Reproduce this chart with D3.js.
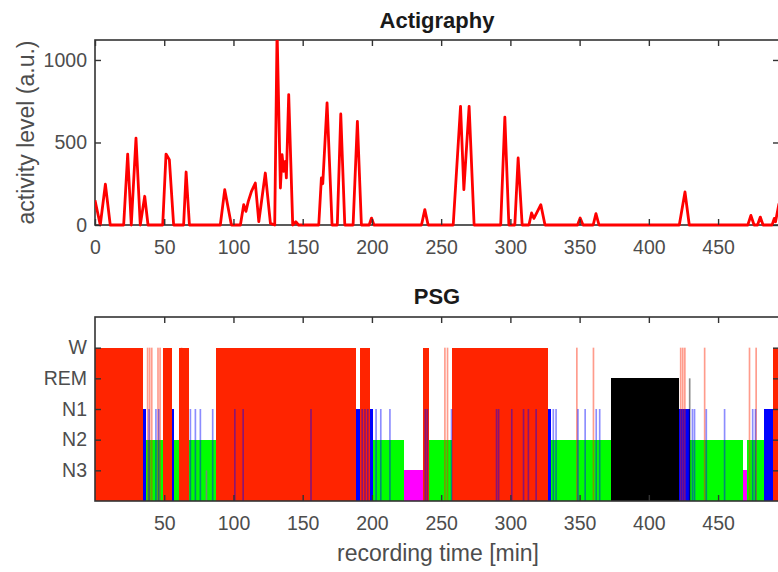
<!DOCTYPE html>
<html>
<head>
<meta charset="utf-8">
<script src="https://cdn.jsdelivr.net/npm/d3@7/dist/d3.min.js"></script>
<style>
  body { margin: 0; background: #fff; }
  text { font-family: "Liberation Sans", Arial, Helvetica, sans-serif; }
</style>
</head>
<body>
<div id="chart"></div>
<script>
// actigraphy trace: time [min] and activity level [a.u.]
var actTime = [0, 3.8, 7.5, 11, 20.7, 23.6, 26.2, 29.6, 32.7, 35.9, 38.3, 48.9, 51.3, 53.7, 56.8,
  64, 65.8, 68.2, 90.5, 93.7, 98.5, 105, 107.4, 109, 110.7, 113, 115.8, 118.3, 123, 126.7,
  129.8, 131.5, 133.9, 135.1, 136.3, 137.5, 138.2, 139.9, 142.8, 145, 147, 161.6, 163.5, 164.5,
  167.6, 171.2, 175, 177.5, 180.4, 186.4, 189.5, 192.4, 198, 199.7, 201.5, 235.8, 238.2, 240.6,
  258.7, 264, 266.4, 270.2, 273.8, 293, 296, 298.9, 303.2, 305.6, 308.5, 313.4, 315.3, 317,
  322, 325, 348.5, 350.4, 352.5, 359.8, 361.8, 364, 422, 426.1, 429.2, 471.5, 473.7, 476,
  478.5, 480.5, 482.5, 489, 490.6, 491.5, 494];
var actLevel = [150, 0, 248, 0, 0, 430, 0, 527, 0, 174, 0, 0, 430, 396, 0,
  0, 321, 0, 0, 214, 0, 0, 123, 83, 143, 204, 254, 20, 315, 10,
  0, 1180, 224, 426, 325, 386, 285, 790, 0, 20, 0, 0, 285, 250,
  740, 0, 0, 673, 0, 0, 628, 0, 0, 42, 0, 0, 93, 0,
  0, 719, 214, 719, 0, 0, 654, 0, 0, 406, 0, 0, 73, 40,
  123, 0, 0, 42, 0, 0, 69, 0, 0, 200, 0, 0, 58, 0,
  0, 48, 0, 0, 40, 20, 130];

// PSG hypnogram: stage blocks
var blockStart = [0, 35, 37, 49, 55.5, 57, 61, 68, 87.5, 188.5, 191.5, 198.5, 200.5, 223, 237, 241,
  258, 327.5, 329.5, 373, 422, 430, 468, 471, 483.5, 490];
var blockEnd = [35, 37, 49, 55.5, 57, 61, 68, 87.5, 188.5, 191.5, 198.5, 200.5, 223, 237, 241, 258,
  327.5, 329.5, 373, 422, 430, 468, 471, 483.5, 490, 494];
var blockStage = ["W", "N1", "N2", "W", "N1", "N2", "W", "N2", "W", "N1", "W", "N1", "N2", "N3", "W", "N2",
  "W", "N1", "N2", "REM", "N1", "N2", "N3", "N2", "N1", "W"];

// single short epochs, drawn as thin translucent lines
var briefTime = [38, 39.5, 41, 45.5, 47, 39, 44, 46, 62.5, 68.9, 72.5, 76.1, 85, 80.5,
  101, 107, 156, 193, 195, 197, 203, 206.4, 213, 238.5, 240, 252.7, 254.6, 257.5,
  290, 291.5, 301, 309.5, 313, 318.6, 331, 333, 348, 360, 348.8, 354, 362, 364.5,
  423, 424.5, 426, 429.5, 431.5, 433, 440.3, 441.5, 454.7, 472.7, 477.5, 475, 477];
var briefStage = ["W", "W", "W", "W", "W", "N1", "N1", "N1", "W", "N1", "N1", "N1", "N1", "N3",
  "N1", "N1", "N1", "N1", "N1", "N1", "N1", "N1", "N1", "N1", "N1", "W", "W", "N1",
  "N1", "N1", "N1", "N1", "N1", "N1", "N1", "N1", "W", "W", "N1", "N1", "N1", "N1",
  "W", "W", "W", "REM", "N1", "N1", "W", "N1", "N1", "W", "W", "N1", "N1"];

var stageNames = ["N3", "N2", "N1", "REM", "W"];
var stageColor = { W: "#ff2400", REM: "#000000", N1: "#0000ff", N2: "#00ff00", N3: "#ff00ff" };

var actTicks = [0, 50, 100, 150, 200, 250, 300, 350, 400, 450];
var psgTicks = [50, 100, 150, 200, 250, 300, 350, 400, 450];
var levelTicks = [0, 500, 1000];

var svgWidth = 778;
var svgHeight = 572;

var axisColor = "#333";
var tickColor = "#4d4d4d";

var svg = d3.select("#chart")
  .append("svg")
  .attr("width", svgWidth)
  .attr("height", svgHeight);

// shared x scale (both panels sit on the same time axis)
var left = 95, right = 779;
var xScale = d3.scaleLinear().domain([0, 494]).range([left, right]);

// ---------- top panel: actigraphy ----------
var topY0 = 40, topY1 = 225;
var yAct = d3.scaleLinear().domain([0, 1121]).range([topY1, topY0]);

svg.append("clipPath")
  .attr("id", "actClip")
  .append("rect")
  .attr("x", left)
  .attr("y", topY0)
  .attr("width", right - left)
  .attr("height", topY1 - topY0 + 4);

svg.append("rect")
  .attr("x", left)
  .attr("y", topY0)
  .attr("width", right - left)
  .attr("height", topY1 - topY0)
  .attr("fill", "none")
  .attr("stroke", axisColor)
  .attr("stroke-width", 1.6);

var actLine = d3.line()
  .x((d, i) => xScale(actTime[i]))
  .y(d => yAct(d));

svg.append("path")
  .datum(actLevel)
  .attr("clip-path", "url(#actClip)")
  .attr("d", actLine)
  .attr("fill", "none")
  .attr("stroke", "#ff0000")
  .attr("stroke-width", 2.8)
  .attr("stroke-linejoin", "round");

function styleAxis(g) {
  g.select(".domain").remove();
  g.selectAll(".tick line").attr("stroke", axisColor).attr("stroke-width", 1.4);
  g.selectAll(".tick text")
    .attr("fill", tickColor)
    .style("font-size", "19.5px");
}

svg.append("g")
  .attr("transform", `translate(0, ${topY1})`)
  .call(d3.axisBottom(xScale).tickValues(actTicks).tickSizeInner(-6).tickSizeOuter(0).tickPadding(15))
  .call(styleAxis);

svg.append("g")
  .attr("transform", `translate(0, ${topY0})`)
  .call(d3.axisTop(xScale).tickValues(actTicks).tickSizeInner(-6).tickSizeOuter(0).tickFormat(""))
  .call(styleAxis);

svg.append("g")
  .attr("transform", `translate(${left}, 0)`)
  .call(d3.axisLeft(yAct).tickValues(levelTicks).tickSizeInner(-6).tickSizeOuter(0).tickPadding(8)
    .tickFormat(d3.format("d")))
  .call(styleAxis);

svg.append("g")
  .attr("transform", `translate(${right}, 0)`)
  .call(d3.axisRight(yAct).tickValues(levelTicks).tickSizeInner(-6).tickSizeOuter(0).tickFormat(""))
  .call(styleAxis);

svg.append("text")
  .attr("x", (left + right) / 2)
  .attr("y", 28)
  .attr("text-anchor", "middle")
  .style("font-size", "22px")
  .style("font-weight", "bold")
  .attr("fill", "#1a1a1a")
  .text("Actigraphy");

svg.append("text")
  .attr("transform", `translate(34, ${(topY0 + topY1) / 2}) rotate(-90)`)
  .attr("text-anchor", "middle")
  .style("font-size", "23px")
  .attr("fill", tickColor)
  .text("activity level (a.u.)");

// ---------- bottom panel: PSG hypnogram ----------
var botY0 = 317, botY1 = 501;
var yStage = d3.scaleLinear().domain([0, 6]).range([botY1, botY0]);
var stageValue = d => stageNames.indexOf(d) + 1;

var blocks = blockStart.map((s, i) => ({ start: s, end: blockEnd[i], stage: blockStage[i] }));
var briefs = briefTime.map((t, i) => ({ t: t, stage: briefStage[i] }));

svg.append("g")
  .selectAll("rect")
  .data(blocks)
  .enter()
  .append("rect")
  .attr("x", d => xScale(d.start))
  .attr("width", d => xScale(d.end) - xScale(d.start))
  .attr("y", d => yStage(stageValue(d.stage)))
  .attr("height", d => botY1 - yStage(stageValue(d.stage)))
  .attr("fill", d => stageColor[d.stage])
  .attr("shape-rendering", "crispEdges");

var briefWidth = 1.2; // minutes
svg.append("g")
  .selectAll("rect")
  .data(briefs)
  .enter()
  .append("rect")
  .attr("x", d => xScale(d.t - briefWidth / 2))
  .attr("width", xScale(briefWidth) - xScale(0))
  .attr("y", d => yStage(stageValue(d.stage)))
  .attr("height", d => botY1 - yStage(stageValue(d.stage)))
  .attr("fill", d => stageColor[d.stage])
  .attr("opacity", 0.45);

svg.append("rect")
  .attr("x", left)
  .attr("y", botY0)
  .attr("width", right - left)
  .attr("height", botY1 - botY0)
  .attr("fill", "none")
  .attr("stroke", axisColor)
  .attr("stroke-width", 1.6);

svg.append("g")
  .attr("transform", `translate(0, ${botY1})`)
  .call(d3.axisBottom(xScale).tickValues(psgTicks).tickSizeInner(-6).tickSizeOuter(0).tickPadding(15))
  .call(styleAxis);

svg.append("g")
  .attr("transform", `translate(0, ${botY0})`)
  .call(d3.axisTop(xScale).tickValues(psgTicks).tickSizeInner(-6).tickSizeOuter(0).tickFormat(""))
  .call(styleAxis);

svg.append("g")
  .attr("transform", `translate(${left}, 0)`)
  .call(d3.axisLeft(yStage).tickValues([1, 2, 3, 4, 5]).tickSizeInner(-6).tickSizeOuter(0)
    .tickPadding(8).tickFormat(d => stageNames[d - 1]))
  .call(styleAxis);

svg.append("g")
  .attr("transform", `translate(${right}, 0)`)
  .call(d3.axisRight(yStage).tickValues([1, 2, 3, 4, 5]).tickSizeInner(-6).tickSizeOuter(0).tickFormat(""))
  .call(styleAxis);

svg.append("text")
  .attr("x", (left + right) / 2)
  .attr("y", 304)
  .attr("text-anchor", "middle")
  .style("font-size", "22px")
  .style("font-weight", "bold")
  .attr("fill", "#1a1a1a")
  .text("PSG");

svg.append("text")
  .attr("x", 438)
  .attr("y", 561)
  .attr("text-anchor", "middle")
  .style("font-size", "23px")
  .attr("fill", tickColor)
  .text("recording time [min]");
</script>
</body>
</html>
